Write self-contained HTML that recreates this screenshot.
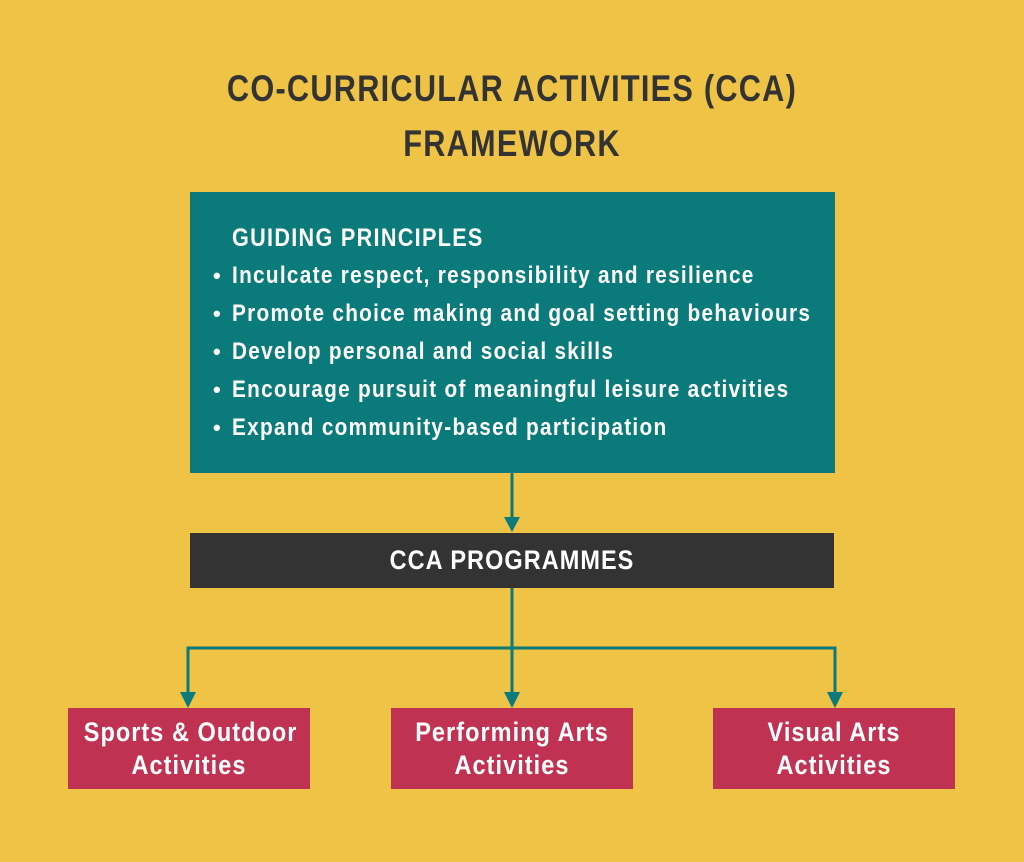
<!DOCTYPE html>
<html><head><style>
body{margin:0;width:1024px;height:862px;background:#eec346;position:relative;overflow:hidden;font-family:"Liberation Sans",sans-serif;font-weight:bold}
.t{position:absolute;left:0;width:1024px;text-align:center;color:#333;font-size:37px;letter-spacing:1.5px;transform:scaleX(0.83);transform-origin:512px 0}
#teal{position:absolute;left:190px;top:192px;width:645px;height:281px;background:#0b7a7b}
.l{position:absolute;left:232px;color:#fff;font-size:24px;letter-spacing:1.5px;white-space:nowrap;transform:scaleX(0.865);transform-origin:0 0}
.b{position:absolute;left:213px;color:#fff;font-size:22px}
#dark{position:absolute;left:190px;top:533px;width:644px;height:55px;background:#333}
.c{position:absolute;color:#fff;text-align:center;white-space:nowrap;font-size:27px;letter-spacing:1.2px;transform:scaleX(0.87)}
.r{position:absolute;top:708px;width:242px;height:81px;background:#c03252}
</style></head><body>
<div class="t" style="top:68px">CO-CURRICULAR ACTIVITIES (CCA)</div>
<div class="t" style="top:123px">FRAMEWORK</div>
<div id="teal"></div>
<div class="l" style="top:224px;font-size:25px">GUIDING PRINCIPLES</div>
<div class="b" style="top:263px">•</div><div class="l" style="top:262px">Inculcate respect, responsibility and resilience</div>
<div class="b" style="top:301px">•</div><div class="l" style="top:300px">Promote choice making and goal setting behaviours</div>
<div class="b" style="top:339px">•</div><div class="l" style="top:338px">Develop personal and social skills</div>
<div class="b" style="top:377px">•</div><div class="l" style="top:376px">Encourage pursuit of meaningful leisure activities</div>
<div class="b" style="top:415px">•</div><div class="l" style="top:414px">Expand community-based participation</div>
<svg style="position:absolute;left:0;top:0" width="1024" height="862">
<g stroke="#0b7a7b" stroke-width="3" fill="none">
<line x1="512" y1="473" x2="512" y2="520"/>
<line x1="512" y1="588" x2="512" y2="695"/>
<polyline points="188,695 188,648 835,648 835,695"/>
</g>
<g fill="#0b7a7b">
<polygon points="504,517 520,517 512,532"/>
<polygon points="180,692 196,692 188,708"/>
<polygon points="504,692 520,692 512,708"/>
<polygon points="827,692 843,692 835,708"/>
</g>
</svg>
<div id="dark"></div>
<div class="c" style="left:190px;width:644px;top:545px">CCA PROGRAMMES</div>
<div class="r" style="left:68px"></div>
<div class="r" style="left:391px"></div>
<div class="r" style="left:713px"></div>
<div class="c" style="left:68px;width:242px;top:716px;line-height:33px">Sports &amp; Outdoor<br>Activities</div>
<div class="c" style="left:391px;width:242px;top:716px;line-height:33px">Performing Arts<br>Activities</div>
<div class="c" style="left:713px;width:242px;top:716px;line-height:33px">Visual Arts<br>Activities</div>
</body></html>
